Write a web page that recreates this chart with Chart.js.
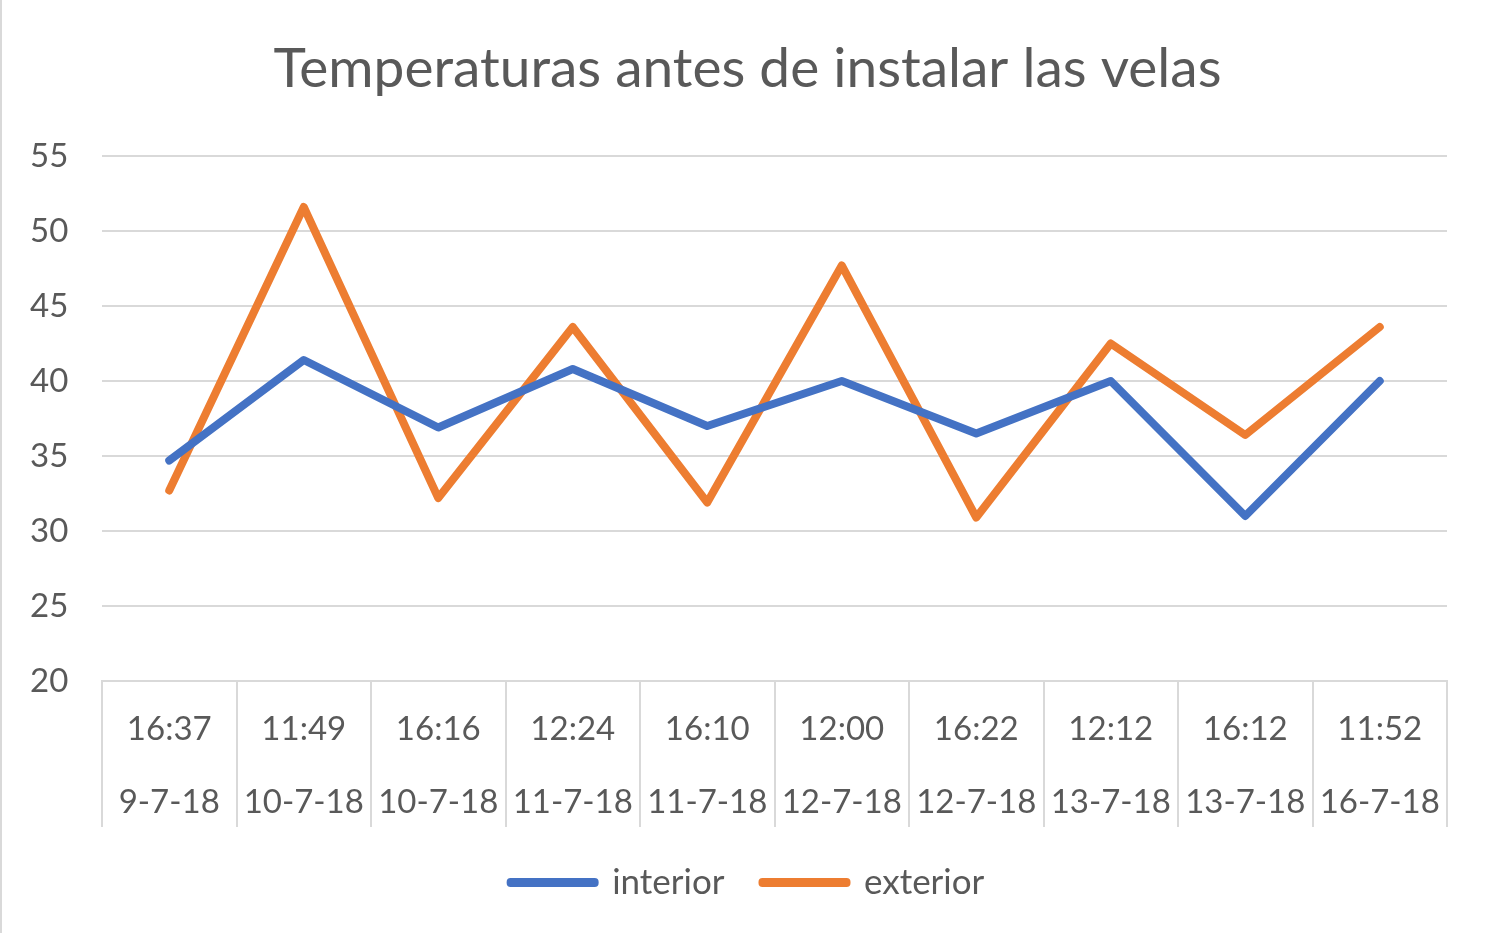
<!DOCTYPE html>
<html>
<head>
<meta charset="utf-8">
<script src="https://cdn.jsdelivr.net/npm/chart.js@4"></script>
<style>
  body { margin: 0; background: #fff; }
  #wrap { width: 1488px; height: 933px; box-sizing: border-box; border-left: 2px solid #d9d9d9; }
</style>
</head>
<body>
<div id="wrap"><canvas id="chart" width="1486" height="933"></canvas></div>
<script>
var horas = ["16:37", "11:49", "16:16", "12:24", "16:10", "12:00", "16:22", "12:12", "16:12", "11:52"];
var fechas = ["9-7-18", "10-7-18", "10-7-18", "11-7-18", "11-7-18", "12-7-18", "12-7-18", "13-7-18", "13-7-18", "16-7-18"];
var interior = [34.7, 41.4, 36.9, 40.8, 37.0, 40.0, 36.5, 40.0, 31.0, 40.0];
var exterior = [32.7, 51.6, 32.2, 43.6, 31.9, 47.7, 30.9, 42.5, 36.4, 43.6];

var etiquetas = horas.map(function (h, i) { return [h, fechas[i]]; });

var grey = "#595959";
var lineGrey = "#d9d9d9";
Chart.defaults.font.family = "Lato, 'Open Sans', sans-serif";

// vertical separators between categories, below the plot area
var separadores = {
    id: "separadores",
    afterDraw: function (chart) {
        var x = chart.scales.x;
        var c = chart.ctx;
        var n = chart.data.labels.length;
        var w = (x.right - x.left) / n;
        c.save();
        c.strokeStyle = lineGrey;
        c.lineWidth = 2;
        for (var i = 0; i <= n; i++) {
            var px = Math.round(x.left + i * w);
            c.beginPath();
            c.moveTo(px, x.top);
            c.lineTo(px, x.bottom);
            c.stroke();
        }
        c.restore();
    }
};

var ctx = document.getElementById("chart").getContext("2d");
var myChart = new Chart(ctx, {
    type: "line",
    data: {
        labels: etiquetas,
        datasets: [
            {
                label: "interior",
                data: interior,
                borderColor: "#4472c4",
                backgroundColor: "#4472c4",
                borderWidth: 8,
                borderCapStyle: "round",
                borderJoinStyle: "round",
                pointRadius: 0,
                fill: false,
                tension: 0
            },
            {
                label: "exterior",
                data: exterior,
                borderColor: "#ed7d31",
                backgroundColor: "#ed7d31",
                borderWidth: 8,
                borderCapStyle: "round",
                borderJoinStyle: "round",
                pointRadius: 0,
                fill: false,
                tension: 0
            }
        ]
    },
    options: {
        responsive: false,
        animation: false,
        layout: { padding: { left: 46, right: 41, top: 36, bottom: 23 } },
        plugins: {
            title: {
                display: true,
                text: "Temperaturas antes de instalar las velas",
                color: grey,
                font: { size: 55, weight: "normal" },
                padding: { top: 0, bottom: 54 }
            },
            legend: {
                position: "bottom",
                labels: {
                    color: grey,
                    font: { size: 35 },
                    boxWidth: 84,
                    boxHeight: 1,
                    padding: 38
                }
            },
            tooltip: { enabled: false }
        },
        scales: {
            x: {
                offset: true,
                afterFit: function (scale) { scale.height = 146; },
                grid: {
                    offset: true,
                    drawOnChartArea: false,
                    drawTicks: false,
                    color: lineGrey,
                    lineWidth: 2
                },
                border: { display: true, color: lineGrey, width: 2 },
                ticks: {
                    color: grey,
                    font: { size: 33, lineHeight: 2.2 },
                    padding: 12,
                    maxRotation: 0,
                    autoSkip: false
                }
            },
            y: {
                min: 20,
                max: 55,
                afterFit: function (scale) { scale.width = 54; },
                grid: {
                    color: lineGrey,
                    lineWidth: 2,
                    drawTicks: false
                },
                border: { display: false },
                ticks: {
                    stepSize: 5,
                    color: grey,
                    font: { size: 33 },
                    mirror: true,
                    padding: -72
                }
            }
        }
    },
    plugins: [separadores]
});
</script>
</body>
</html>
